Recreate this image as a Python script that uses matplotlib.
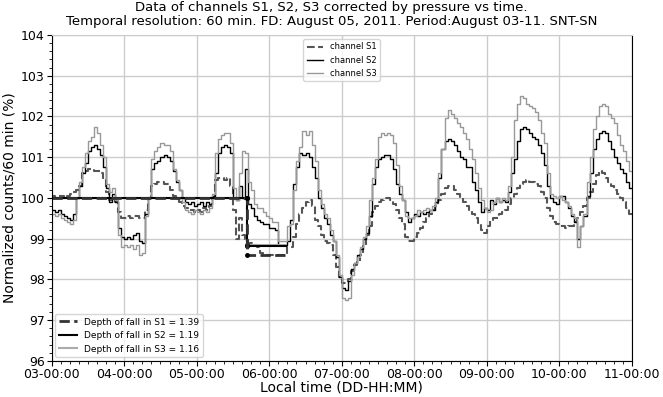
import numpy as np
import pandas as pd
import matplotlib
matplotlib.use("Agg")
import matplotlib.pyplot as plt
import matplotlib.dates as mdates

# hourly values, one list per day (03 .. 10 August 2011)
s1_days = [
    [100.05, 100.0, 100.05, 100.05, 100.0, 100.05, 100.1, 100.15, 100.2, 100.3, 100.6, 100.65,
     100.7, 100.7, 100.65, 100.65, 100.6, 100.5, 100.15, 99.95, 100.0, 99.9, 99.65, 99.5],
    [99.5, 99.55, 99.5, 99.55, 99.55, 99.5, 99.5, 99.7, 100.0, 100.3, 100.35, 100.4,
     100.4, 100.35, 100.35, 100.2, 100.05, 100.0, 99.9, 99.8, 99.75, 99.7, 99.7, 99.65],
    [99.7, 99.65, 99.75, 99.7, 99.8, 100.0, 100.45, 100.5, 100.5, 100.45, 100.5, 100.3,
     99.7, 99.0, 99.5, 99.1, 99.0, 98.9, 98.9, 98.85, 98.8, 98.65, 98.6, 98.6],
    [98.6, 98.6, 98.6, 98.6, 98.6, 98.6, 98.8, 98.8, 99.05, 99.35, 99.6, 99.75,
     99.9, 99.95, 99.8, 99.45, 99.3, 99.1, 98.95, 98.9, 98.85, 98.6, 98.3, 98.05],
    [97.9, 97.9, 98.0, 98.2, 98.35, 98.45, 98.6, 98.85, 99.1, 99.3, 99.65, 99.8,
     99.9, 99.95, 100.0, 100.0, 99.95, 99.85, 99.7, 99.5, 99.35, 99.05, 98.95, 98.95],
    [99.05, 99.15, 99.25, 99.4, 99.5, 99.6, 99.7, 99.8, 99.95, 100.1, 100.25, 100.3,
     100.3, 100.2, 100.1, 100.0, 99.9, 99.8, 99.7, 99.6, 99.5, 99.35, 99.2, 99.15],
    [99.3, 99.45, 99.5, 99.5, 99.6, 99.65, 99.7, 99.85, 100.0, 100.1, 100.25, 100.35,
     100.4, 100.45, 100.4, 100.4, 100.35, 100.3, 100.15, 100.0, 99.75, 99.55, 99.4, 99.35],
    [99.3, 99.3, 99.25, 99.3, 99.3, 99.4, 99.5, 99.65, 99.8, 100.0, 100.15, 100.35,
     100.55, 100.65, 100.6, 100.5, 100.4, 100.3, 100.2, 100.1, 100.0, 99.9, 99.75, 99.6],
]
s2_days = [
    [99.7, 99.65, 99.7, 99.6, 99.55, 99.5, 99.45, 99.6, 100.0, 100.3, 100.6, 100.85,
     101.15, 101.25, 101.3, 101.2, 101.05, 100.75, 100.25, 99.9, 100.1, 99.9, 99.25, 99.05],
    [99.0, 99.05, 99.0, 99.1, 99.15, 98.95, 98.9, 99.6, 100.0, 100.7, 100.85, 100.9,
     101.0, 101.05, 101.0, 100.9, 100.65, 100.4, 100.2, 100.0, 99.9, 99.85, 99.9, 99.8],
    [99.85, 99.9, 99.8, 99.9, 99.85, 100.05, 100.6, 101.1, 101.25, 101.3, 101.25, 101.1,
     100.0, 99.95, 100.3, 100.0, 100.7, 99.85, 99.75, 99.55, 99.45, 99.4, 99.35, 99.35],
    [99.25, 99.25, 99.2, 98.85, 98.85, 98.85, 98.95, 99.45, 100.35, 100.75, 101.1, 101.05,
     101.1, 101.0, 100.75, 100.5, 100.0, 99.75, 99.5, 99.35, 99.1, 98.95, 98.55, 98.05],
    [97.8, 97.75, 97.95, 98.25, 98.4, 98.6, 98.75, 99.0, 99.15, 99.55, 100.35, 100.75,
     100.95, 101.0, 101.05, 101.05, 100.95, 100.7, 100.35, 100.1, 99.95, 99.65, 99.4, 99.5],
    [99.6, 99.55, 99.65, 99.6, 99.65, 99.7, 99.7, 99.9, 100.5, 101.2, 101.4, 101.45,
     101.4, 101.3, 101.15, 101.0, 100.95, 100.75, 100.75, 100.4, 100.2, 99.9, 99.65, 99.75],
    [99.7, 99.95, 99.85, 100.0, 99.9, 99.95, 99.9, 100.15, 100.6, 100.95, 101.4, 101.7,
     101.75, 101.7, 101.6, 101.5, 101.45, 101.3, 101.1, 100.8, 100.3, 100.0, 99.9, 99.85],
    [100.05, 100.05, 99.9, 99.75, 99.55, 99.4, 99.0, 99.3, 99.55, 100.05, 100.6, 101.2,
     101.45, 101.6, 101.65, 101.6, 101.4, 101.2, 101.0, 100.85, 100.7, 100.6, 100.4, 100.25],
]
s3_days = [
    [99.6, 99.55, 99.6, 99.5, 99.45, 99.4, 99.35, 99.45, 100.0, 100.4, 100.75, 101.1,
     101.4, 101.5, 101.75, 101.6, 101.3, 101.0, 100.35, 100.15, 100.25, 99.95, 99.1, 98.8],
    [98.85, 98.8, 98.85, 98.75, 98.85, 98.6, 98.65, 99.55, 100.0, 100.95, 101.15, 101.25,
     101.35, 101.3, 101.3, 101.15, 100.7, 100.45, 100.2, 99.9, 99.7, 99.65, 99.6, 99.7],
    [99.65, 99.6, 99.7, 99.65, 99.75, 100.1, 101.1, 101.45, 101.55, 101.6, 101.6, 101.35,
     100.25, 99.95, 100.6, 101.15, 101.1, 100.4, 100.2, 99.85, 99.75, 99.75, 99.65, 99.55],
    [99.5, 99.4, 99.4, 98.95, 98.95, 98.95, 99.3, 99.35, 100.2, 100.9, 101.25, 101.65,
     101.55, 101.65, 101.3, 100.9, 100.2, 99.85, 99.6, 99.5, 99.2, 98.95, 98.6, 98.1],
    [97.55, 97.5, 97.55, 98.1, 98.4, 98.55, 98.8, 99.05, 99.3, 99.95, 100.5, 100.95,
     101.5, 101.6, 101.55, 101.6, 101.55, 101.35, 100.8, 100.3, 99.95, 99.55, 99.5, 99.5],
    [99.55, 99.7, 99.65, 99.7, 99.75, 99.7, 99.8, 100.0, 100.6, 101.2, 101.95, 102.15,
     102.05, 101.95, 101.85, 101.75, 101.6, 101.45, 101.2, 100.95, 100.6, 100.25, 99.95, 99.75],
    [99.65, 99.7, 99.9, 100.0, 99.9, 100.0, 99.95, 100.3, 101.0, 101.9, 102.3, 102.5,
     102.45, 102.3, 102.25, 102.2, 102.1, 101.9, 101.6, 101.35, 100.6, 100.1, 100.05, 100.0],
    [100.05, 99.95, 99.9, 99.8, 99.6, 99.5, 98.8, 99.3, 99.6, 100.4, 101.0, 101.7,
     102.0, 102.25, 102.3, 102.25, 102.05, 101.95, 101.85, 101.55, 101.3, 101.15, 100.9, 100.65],
]

depth_labels = ["S1", "S2", "S3"]
depths = [1.39, 1.19, 1.16]
fd_time = pd.Timestamp("2011-08-05 16:36")
fd_end = pd.Timestamp("2011-08-06 05:30")

start = pd.Timestamp("2011-08-03 00:00")
end = pd.Timestamp("2011-08-11 00:00")
times = pd.date_range(start, periods=192, freq="h")
t_step = list(times) + [end]

s1 = np.concatenate(s1_days)
s2 = np.concatenate(s2_days)
s3 = np.concatenate(s3_days)

fig = plt.figure(figsize=(6.63, 3.97), dpi=100)
ax = fig.add_axes([0.078, 0.091, 0.875, 0.821])

l1, = ax.step(t_step, list(s1) + [s1[-1]], where="post", color="#555555", ls="--", lw=1.5, label="channel S1")
l2, = ax.step(t_step, list(s2) + [s2[-1]], where="post", color="black", lw=1.0, label="channel S2")
l3, = ax.step(t_step, list(s3) + [s3[-1]], where="post", color="#999999", lw=1.0, label="channel S3")

# depth of fall lines
styles = [dict(color="#333333", ls="--", lw=2.0), dict(color="black", ls="-", lw=1.5),
          dict(color="#aaaaaa", ls="-", lw=1.5)]
handles = []
for k in [2, 1, 0]:
    lo = 100 - depths[k]
    h, = ax.plot([start, fd_time, fd_time, fd_end], [100, 100, lo, lo], **styles[k],
                 label="Depth of fall in %s = %.2f" % (depth_labels[k], depths[k]))
    ax.plot([fd_time, fd_time], [100, lo], ls="none", marker="o", ms=2.5, color="black")
    handles.insert(0, h)

ax.set_xlim(start, end)
ax.set_ylim(96, 104)
ax.xaxis.set_major_locator(mdates.DayLocator())
ax.xaxis.set_minor_locator(mdates.HourLocator(byhour=range(0, 24, 3)))
ax.xaxis.set_major_formatter(mdates.DateFormatter("%d-%H:%M"))
ax.yaxis.set_major_locator(plt.MultipleLocator(1))
ax.yaxis.set_minor_locator(plt.MultipleLocator(0.2))
ax.tick_params(labelsize=9, pad=1.5)
ax.grid(True, which="major", color="#cccccc", lw=1)
ax.set_axisbelow(True)
ax.spines["top"].set_color("#cccccc")

ax.set_xlabel("Local time (DD-HH:MM)", fontsize=10, labelpad=0)
ax.set_ylabel("Normalized counts/60 min (%)", fontsize=10, labelpad=3)
fig.suptitle("Data of channels S1, S2, S3 corrected by pressure vs time.\n"
             "Temporal resolution: 60 min. FD: August 05, 2011. Period:August 03-11. SNT-SN",
             fontsize=9.5, y=0.997, linespacing=1.05)

leg1 = ax.legend(handles=[l1, l2, l3], loc="upper center", bbox_to_anchor=(0.5, 1.0), fontsize=6)
ax.add_artist(leg1)
ax.legend(handles=handles, loc="lower left", fontsize=6.5, borderaxespad=0.4)

fig.savefig("out.png", dpi=100)
